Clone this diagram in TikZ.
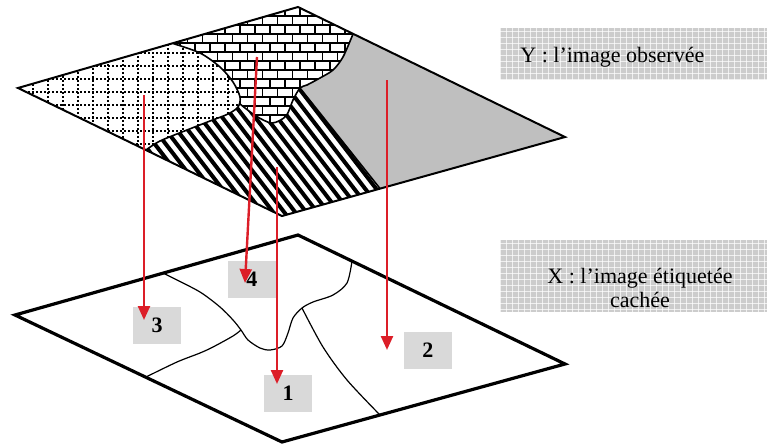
\documentclass[tikz,border=0pt]{standalone}
\usepackage{fontspec}
\setmainfont{Liberation Serif}
\usetikzlibrary{arrows.meta}
\definecolor{arrowred}{RGB}{220,30,40}

\begin{document}
\begin{tikzpicture}[
  x=0.5pt, y=-0.5pt,
  planeline/.style={draw, line width=1pt},
  lowplaneline/.style={draw, line width=1.6pt},
  zoneline/.style={draw, line width=0.8pt},
  cutline/.style={draw, line width=0.6pt},
  stripeline/.style={line width=2pt},
  mortar/.style={line width=0.9pt},
  dotline/.style={line width=0.65pt, dash pattern=on 1pt off 1pt},
  numbox/.style={fill=black!15, minimum width=24pt, minimum height=18.5pt, inner sep=0pt, font=\fontsize{11}{12}\selectfont\bfseries},
  legendbox/.style={fill=black!20, inner sep=0pt},
  gridline/.style={white, line width=0.4pt, opacity=0.7},
  captext/.style={inner sep=0pt, font=\fontsize{11}{12}\selectfont},
  redarrow/.style={draw=arrowred, line width=1.2pt, -{Triangle[length=7pt, width=6pt]}}
]
\useasboundingbox (0,0) rectangle (768,446);

% upper plane: Y
\coordinate (tl) at (18,88);
\coordinate (tt) at (298,7);
\coordinate (tr) at (565,137);
\coordinate (tb) at (282,216);
\coordinate (ta) at (173,43.5);
\coordinate (tc) at (353,34);
\coordinate (td) at (146,150);
\coordinate (te) at (380,188.5);
\coordinate (tf) at (300,88);
\fill[black!25] (tl) -- (tt) -- (tr) -- (tb) -- cycle;

% striped zone
\begin{scope}
  \clip (td) -- (tb) -- (te) -- (tf) -- (240,60) -- (190,70) -- cycle;
  \fill[white] (100,0) rectangle (420,230);
  \foreach \i in {-10,...,40}
    \draw[stripeline] (\i*11,0) -- ++(200,260);
\end{scope}

% brick zone
\begin{scope}
  \clip (ta) -- (tt) -- (tc) -- plot[smooth] coordinates {(353,34) (343,57) (333,70) (320,78) (307,85) (300,88) (293,100) (286,116) (272,123) (256,116) (240,104)} -- (190,70) -- cycle;
  \fill[white] (150,0) rectangle (370,130);
  \foreach \k in {0,...,14} {
    \draw[mortar] (150,7+\k*9) -- (370,7+\k*9);
    \pgfmathsetmacro\brickoff{mod(\k,2)*7.5}
    \foreach \j in {0,...,15}
      \draw[mortar] (150+\j*15+\brickoff,7+\k*9) -- ++(0,9);
  }
\end{scope}

% dotted zone
\begin{scope}
  \clip (tl) -- (ta) -- plot[smooth] coordinates {(173,43.5) (200,53) (220,67) (233,82) (240,97) (238,107) (228,114) (210,121) (187,130) (160,141) (146,150)} -- cycle;
  \fill[white] (0,0) rectangle (260,170);
  \foreach \j in {0,...,16}
    \draw[dotline] (18+\j*15,0) -- (18+\j*15,170);
  \foreach \k in {0,...,10}
    \draw[dotline] (0,40+\k*13) -- (260,40+\k*13);
\end{scope}

\draw[zoneline] plot[smooth] coordinates {(173,43.5) (200,53) (220,67) (233,82) (240,97) (238,107) (228,114) (210,121) (187,130) (160,141) (146,150)};
\draw[zoneline] plot[smooth] coordinates {(353,34) (343,57) (333,70) (320,78) (307,85) (300,88) (293,100) (286,116) (272,123) (256,116) (240,104)};
\draw[zoneline] (tf) -- (te);
\draw[planeline] (tl) -- (tt) -- (tr) -- (tb) -- cycle;

% lower plane: X
\coordinate (bl) at (15,315);
\coordinate (bt) at (298,235);
\coordinate (br) at (565,364);
\coordinate (bb) at (282,442);
\draw[cutline] plot[smooth] coordinates {(163,273) (173,278) (200,292) (220,307) (233,320) (241,330) (248,340) (260,348) (270,350) (282,346) (288,333) (293,318) (302,308) (313,302) (333,295) (347,283) (352,261)};
\draw[cutline] plot[smooth] coordinates {(241,330) (233,336) (213,347) (200,353) (177,362) (146,377)};
\draw[cutline] plot[smooth] coordinates {(302,308) (323,347) (347,380) (380,415)};
\draw[lowplaneline] (bl) -- (bt) -- (br) -- (bb) -- cycle;

% labels
\node[numbox] (n3) at (157,325) {3};
\node[numbox] (n4) at (252,279) {4};
\node[numbox] (n1) at (288,393) {1};
\node[numbox] (n2) at (428,350) {2};

% legends
\node[legendbox, minimum width=133.5pt, minimum height=26pt] (ybox) at (633.5,54) {};
\foreach \x in {500,506,...,766}
  \draw[gridline] (\x,28) -- (\x,80);
\foreach \y in {31,37,...,79}
  \draw[gridline] (500,\y) -- (767,\y);
\node[captext, anchor=base west] (ytext) at (520,62) {Y : l’image observée};

\node[legendbox, minimum width=133.5pt, minimum height=36pt] (xbox) at (633.5,276) {};
\foreach \x in {500,506,...,766}
  \draw[gridline] (\x,240) -- (\x,312);
\foreach \y in {243,249,...,311}
  \draw[gridline] (500,\y) -- (767,\y);
\node[captext, align=center] (xtext) at (640,287.5) {X : l’image étiquetée\\cachée};

% arrows
\coordinate (s3) at (144,95);
\coordinate (e3) at (144,320);
\coordinate (s4) at (257,57);
\coordinate (e4) at (245,283);
\coordinate (s1) at (277,167);
\coordinate (e1) at (277,384);
\coordinate (s2) at (387,80);
\coordinate (e2) at (387,350);
\draw[redarrow] (s3) -- (e3);
\draw[redarrow] (s4) -- (e4);
\draw[redarrow] (s1) -- (e1);
\draw[redarrow] (s2) -- (e2);
\end{tikzpicture}
\end{document}
